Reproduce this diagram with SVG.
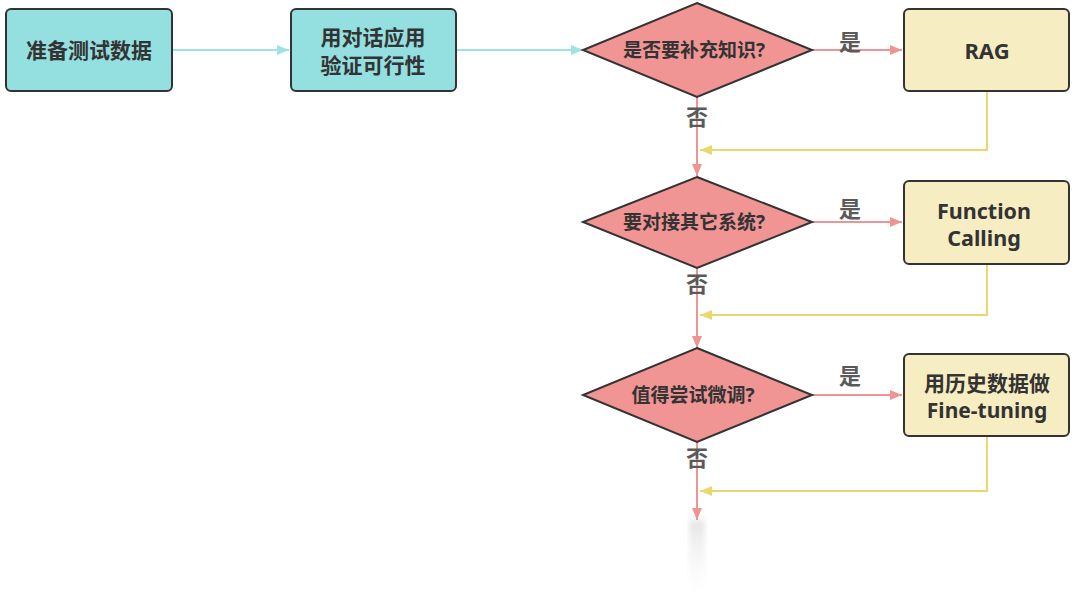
<svg xmlns="http://www.w3.org/2000/svg" width="1080" height="612" viewBox="0 0 1080 612">
<defs>
<style>
.box{stroke:#333;stroke-width:2}
.t{fill:#333;font-family:"Noto Sans","Noto Sans CJK SC",sans-serif;font-weight:bold;text-anchor:middle;dominant-baseline:central}
.lbl{fill:#5a5a5a;font-family:"Noto Sans CJK SC",sans-serif;font-weight:bold;font-size:22px;text-anchor:middle;dominant-baseline:central}
.teal{fill:#94DFDF}
.dia{fill:#F09494}
.yel{fill:#F7EDC2}
.cteal{stroke:#9EE2E2;stroke-width:2;fill:none}
.cpink{stroke:#F09393;stroke-width:2;fill:none}
.cyel{stroke:#EBD76E;stroke-width:2;fill:none}
</style>
<marker id="aT" markerWidth="12" markerHeight="10" refX="12" refY="5" orient="auto" markerUnits="userSpaceOnUse"><path d="M0,0 L12,5 L0,10 Z" fill="#9EE2E2"/></marker>
<marker id="aP" markerWidth="12" markerHeight="10" refX="12" refY="5" orient="auto" markerUnits="userSpaceOnUse"><path d="M0,0 L12,5 L0,10 Z" fill="#F09393"/></marker>
<marker id="aY" markerWidth="12" markerHeight="10" refX="12" refY="5" orient="auto" markerUnits="userSpaceOnUse"><path d="M0,0 L12,5 L0,10 Z" fill="#EBD76E"/></marker>
<linearGradient id="fade" x1="0" y1="0" x2="0" y2="1"><stop offset="0" stop-color="#ddd" stop-opacity="0.8"/><stop offset="1" stop-color="#fff" stop-opacity="0"/></linearGradient>
<filter id="blur"><feGaussianBlur stdDeviation="3"/></filter>
</defs>
<rect width="1080" height="612" fill="#fff"/>
<rect x="689" y="520" width="16" height="90" fill="url(#fade)" filter="url(#blur)"/>
<g id="connectors">
<path class="cteal" d="M172,50 H289" marker-end="url(#aT)"/>
<path class="cteal" d="M456,50 H583" marker-end="url(#aT)"/>
<path class="cpink" d="M812,50 H902" marker-end="url(#aP)"/>
<path class="cpink" d="M697,97 V176" marker-end="url(#aP)"/>
<path class="cyel" d="M987,91 V150 H700" marker-end="url(#aY)"/>
<path class="cpink" d="M812,222 H902" marker-end="url(#aP)"/>
<path class="cpink" d="M697,268 V348" marker-end="url(#aP)"/>
<path class="cyel" d="M987,264 V315 H700" marker-end="url(#aY)"/>
<path class="cpink" d="M812,395 H902" marker-end="url(#aP)"/>
<path class="cpink" d="M697,442 V520" marker-end="url(#aP)"/>
<path class="cyel" d="M987,436 V491 H700" marker-end="url(#aY)"/>
<text class="lbl" x="850" y="40">是</text>
<text class="lbl" x="697" y="115">否</text>
<text class="lbl" x="850" y="207">是</text>
<text class="lbl" x="697" y="282">否</text>
<text class="lbl" x="850" y="374">是</text>
<text class="lbl" x="697" y="456">否</text>
</g>
<g id="n1"><rect class="box teal" x="6" y="9" width="166" height="82" rx="5"/><text class="t" x="89" y="50" font-size="21">准备测试数据</text></g>
<g id="n2"><rect class="box teal" x="291" y="9" width="165" height="82" rx="5"/><text class="t" x="373" y="37" font-size="21">用对话应用</text><text class="t" x="373" y="65" font-size="21">验证可行性</text></g>
<g id="d1"><polygon class="box dia" points="697,3 812,50 697,97 583,50"/><text class="t" x="694" y="50" font-size="19">是否要补充知识?</text></g>
<g id="n3"><rect class="box yel" x="904" y="9" width="165" height="82" rx="5"/><text class="t" x="987" y="50" font-size="22">RAG</text></g>
<g id="d2"><polygon class="box dia" points="697,177 812,222 697,268 583,222"/><text class="t" x="694" y="222" font-size="19">要对接其它系统?</text></g>
<g id="n4"><rect class="box yel" x="904" y="181" width="165" height="83" rx="5"/><text class="t" x="984" y="210" font-size="21.5">Function</text><text class="t" x="984" y="237" font-size="21.5">Calling</text></g>
<g id="d3"><polygon class="box dia" points="697,348 812,395 697,442 583,395"/><text class="t" x="693" y="395" font-size="19">值得尝试微调?</text></g>
<g id="n5"><rect class="box yel" x="904" y="354" width="165" height="82" rx="5"/><text class="t" x="987" y="383" font-size="21">用历史数据做</text><text class="t" x="987" y="410" font-size="21">Fine-tuning</text></g>
</svg>
